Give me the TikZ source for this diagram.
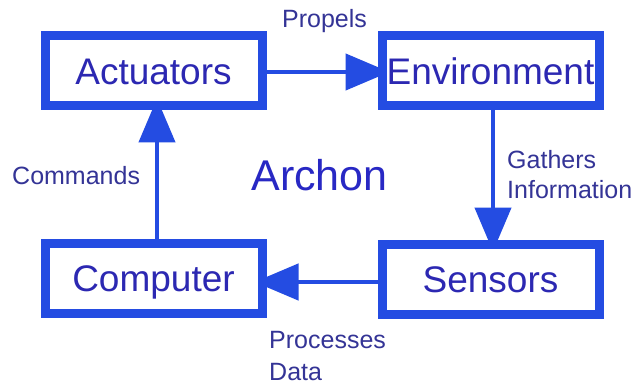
\documentclass[tikz,border=0pt]{standalone}
\usepackage{fontspec}
\setmainfont{Liberation Sans}
\usetikzlibrary{arrows.meta,backgrounds}
\definecolor{boxblue}{RGB}{36,76,226}
\definecolor{nodetext}{RGB}{44,40,178}
\definecolor{labeltext}{RGB}{52,52,150}
\definecolor{titletext}{RGB}{40,40,196}
\begin{document}
\begin{tikzpicture}[x=1pt,y=-1pt,
  blk/.style={draw=boxblue, line width=9pt, fill=white, minimum width=217pt,
    minimum height=70pt, inner sep=0pt, text=nodetext,
    font=\fontsize{37}{44}\selectfont, text height=26.5pt, text depth=0pt},
  conn/.style={draw=boxblue, line width=4.5pt,
    -{Triangle[width=36pt,length=44pt]}, shorten >=-12pt},
  lbl/.style={text=labeltext, font=\fontsize{25}{30}\selectfont, inner sep=0pt}]
\useasboundingbox (0,0) rectangle (640,385);
\node[blk] (act) at (153.5,71) {Actuators};
\node[blk] (env) at (490.5,71) {Environment};
\node[blk] (cmp) at (153.5,278) {Computer};
\node[blk] (sen) at (490.5,279) {Sensors};
\begin{pgfonlayer}{background}
\fill[white] (0,0) rectangle (640,385);
\draw[conn] ([yshift=-1pt]act.east) -- ([yshift=-1pt]env.west);
\draw[conn] ([xshift=2.5pt]env.south) -- ([xshift=2.5pt]env.south |- sen.north);
\draw[conn] ([yshift=-3pt]sen.west) -- ([yshift=-3pt]sen.west -| cmp.east);
\draw[conn] ([xshift=3.5pt]cmp.north) -- ([xshift=3.5pt]cmp.north |- act.south);
\end{pgfonlayer}
\node[lbl, anchor=base] (propels) at (324.5,28) {Propels};
\node[lbl, anchor=base west] (gathers) at (507,168) {Gathers};
\node[lbl, anchor=base west] (info) at (507,198) {Information};
\node[lbl, anchor=base west] (commands) at (12,185) {Commands};
\node[lbl, anchor=base west] (processes) at (269,348) {Processes};
\node[lbl, anchor=base west] (data) at (269,380) {Data};
\node[anchor=base, text=titletext, font=\fontsize{43}{50}\selectfont, inner sep=0pt] (archon) at (319.5,190) {Archon};
\end{tikzpicture}
\end{document}
